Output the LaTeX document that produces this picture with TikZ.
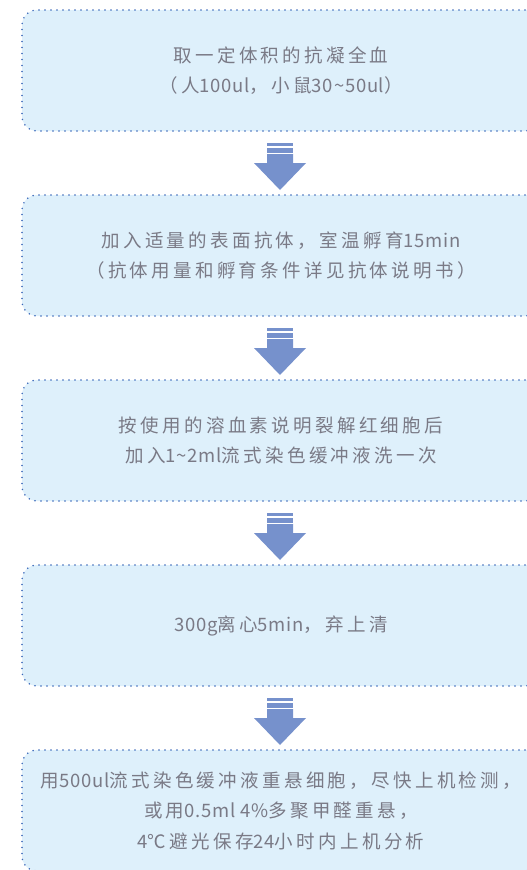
\documentclass[tikz,border=0pt]{standalone}
\usepackage{fontspec}
\newfontfamily\cjk[LetterSpace=18]{Noto Sans CJK SC}
\newfontfamily\latfont[LetterSpace=4]{Noto Sans CJK SC}
\newcommand\entext[1]{{\latfont #1}}
\usetikzlibrary{positioning}

\definecolor{boxfill}{RGB}{222,240,251}
\definecolor{boxline}{RGB}{58,104,185}
\definecolor{arrowblue}{RGB}{118,145,204}
\definecolor{textgrey}{RGB}{122,122,134}

\tikzset{
  stepbox/.style={draw=boxline,fill=boxfill,line width=1.7pt,dash pattern=on 0pt off 6pt,
    line cap=round,rounded corners=15pt,minimum width=518pt,minimum height=121pt,
    inner sep=0pt,outer sep=0pt,align=center,text=textgrey,
    font={\cjk\fontsize{18.5}{30.5}\selectfont}},
  pics/downarrow/.style={code={
    \fill[arrowblue] (-14,12) rectangle (12,14.5);
    \fill[arrowblue] (-14,17) rectangle (12,21.5);
    \fill[arrowblue] (-14,23) -- (12,23) -- (12,32) -- (25,32) -- (-1,59)
      -- (-27,32) -- (-14,32) -- cycle;
  }}
}

\begin{document}
\begin{tikzpicture}[x=1pt,y=-1pt,node distance=64pt]
\useasboundingbox (0,0) rectangle (527,870);
\clip (0,0) rectangle (527,870);

\node[stepbox] (s1) at (281,70.5) {取一定体积的抗凝全血\\（人\entext{100ul}，小鼠\entext{30\textasciitilde 50ul}）};
\node[stepbox,below=of s1] (s2) {加入适量的表面抗体，室温孵育\entext{15min}\\（抗体用量和孵育条件详见抗体说明书）};
\node[stepbox,below=of s2] (s3) {按使用的溶血素说明裂解红细胞后\\加入\entext{1\textasciitilde 2ml}流式染色缓冲液洗一次};
\node[stepbox,below=of s3] (s4) {\entext{300g}离心\entext{5min}，弃上清};
\node[stepbox,below=of s4] (s5) {用\entext{500ul}流式染色缓冲液重悬细胞，尽快上机检测，\\或用\entext{0.5ml 4\%}多聚甲醛重悬，\\\entext{4}℃避光保存\entext{24}小时内上机分析};

\pic at (s1.south) {downarrow};
\pic at (s2.south) {downarrow};
\pic at (s3.south) {downarrow};
\pic at (s4.south) {downarrow};
\end{tikzpicture}
\end{document}
